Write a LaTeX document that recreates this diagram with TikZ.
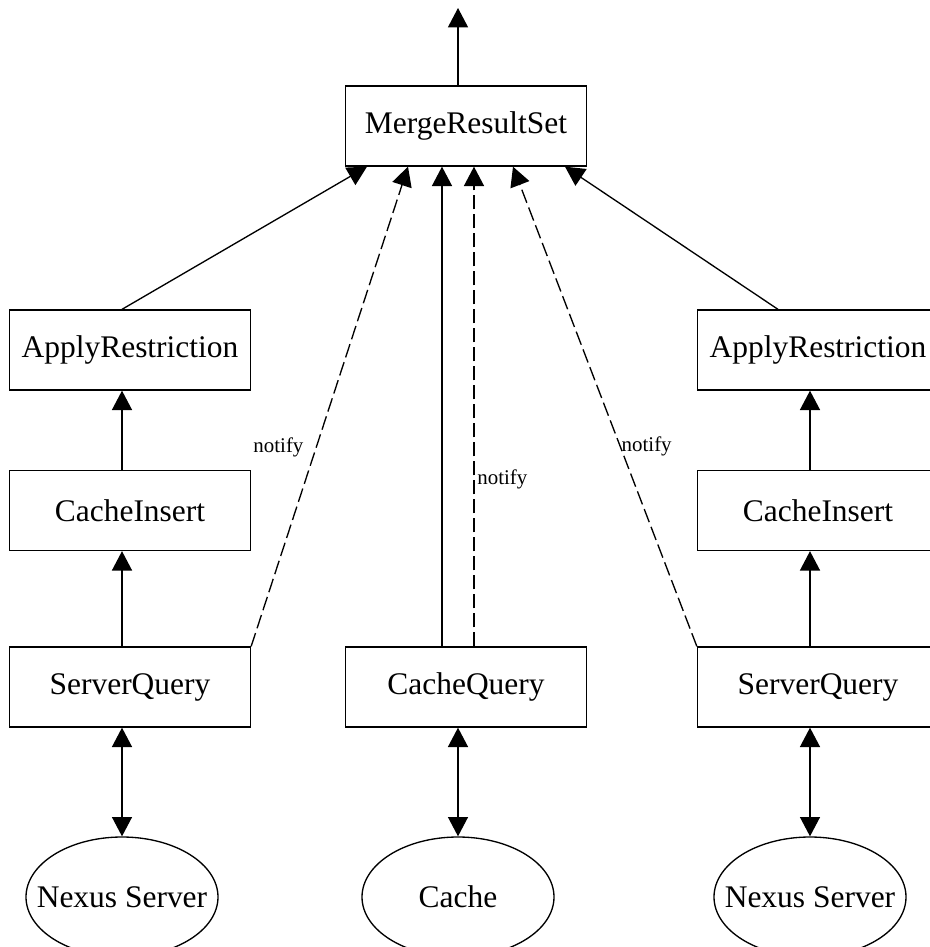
\documentclass[tikz,border=0pt]{standalone}
\usepackage{fontspec}
\setmainfont{Liberation Serif}
\usetikzlibrary{arrows.meta,shapes.geometric}

\tikzset{
  box/.style={draw, line width=1pt, rectangle, inner sep=0pt,
    minimum width=180.75pt, minimum height=60pt,
    font=\fontsize{23.6}{28}\selectfont},
  store/.style={draw, line width=1pt, ellipse, inner sep=0pt,
    minimum width=144pt, minimum height=90pt,
    font=\fontsize{23.6}{28}\selectfont},
  flow/.style={line width=1pt, -{Triangle[length=14.5pt,width=15pt]}},
  both/.style={line width=1pt, {Triangle[length=14.5pt,width=15pt]}-{Triangle[length=14.5pt,width=15pt]}},
  note/.style={line width=1pt, dash pattern=on 10.5pt off 3.75pt,
    -{Triangle[length=14.5pt,width=15pt]}},
  lbl/.style={font=\fontsize{15.7}{19}\selectfont, inner sep=0pt}
}
% a label that does not widen the ellipse around it
\newcommand{\fixedlabel}[1]{\makebox[0pt]{#1}}

\begin{document}
\begin{tikzpicture}[x=0.75pt, y=-0.75pt]
\useasboundingbox (0,0) rectangle (930,947);
\clip (0,0) rectangle (930,947);

% operator boxes
\node[box] (mrs) at (466,126) {MergeResultSet};

\node[box] (arL) at (130,350) {ApplyRestriction};
\node[box] (ciL) at (130,510.5) {CacheInsert};
\node[box] (sqL) at (130,687) {ServerQuery};

\node[box] (cq)  at (466,687) {CacheQuery};

\node[box] (arR) at (818,350) {ApplyRestriction};
\node[box] (ciR) at (818,510.5) {CacheInsert};
\node[box] (sqR) at (818,687) {ServerQuery};

% data sources
\node[store] (nsL) at (122,897) {\fixedlabel{Nexus Server}};
\node[store] (ca)  at (458,897) {\fixedlabel{Cache}};
\node[store] (nsR) at (810,897) {\fixedlabel{Nexus Server}};

% result leaving the plan
\coordinate (out) at (458,8);
\draw[flow] ([xshift=-6pt]mrs.north) -- (out);

% left branch
\draw[both] ([xshift=-6pt]sqL.south) -- (nsL.north);
\draw[flow] ([xshift=-6pt]sqL.north) -- ([xshift=-6pt]ciL.south);
\draw[flow] ([xshift=-6pt]ciL.north) -- ([xshift=-6pt]arL.south);
\draw[flow] ([xshift=-6pt]arL.north) -- ([xshift=-74.25pt]mrs.south);
\draw[note] (sqL.north east) -- ([xshift=-43.5pt]mrs.south)
  node[lbl, pos=0.414, anchor=east, xshift=-9pt] {notify};

% cache branch
\draw[both] ([xshift=-6pt]cq.south) -- (ca.north);
\draw[flow] ([xshift=-18pt]cq.north) -- ([xshift=-18pt]mrs.south);
\draw[note] ([xshift=6pt]cq.north) -- ([xshift=6pt]mrs.south)
  node[lbl, pos=0.349, anchor=west, xshift=2pt] {notify};

% right branch
\draw[both] ([xshift=-6pt]sqR.south) -- (nsR.north);
\draw[flow] ([xshift=-6pt]sqR.north) -- ([xshift=-6pt]ciR.south);
\draw[flow] ([xshift=-6pt]ciR.north) -- ([xshift=-6pt]arR.south);
\draw[flow] ([xshift=-30pt]arR.north) -- ([xshift=74.25pt]mrs.south);
\draw[note] (sqR.north west) -- ([xshift=35.25pt]mrs.south)
  node[lbl, pos=0.416, anchor=west, xshift=0.5pt] {notify};
\end{tikzpicture}
\end{document}
